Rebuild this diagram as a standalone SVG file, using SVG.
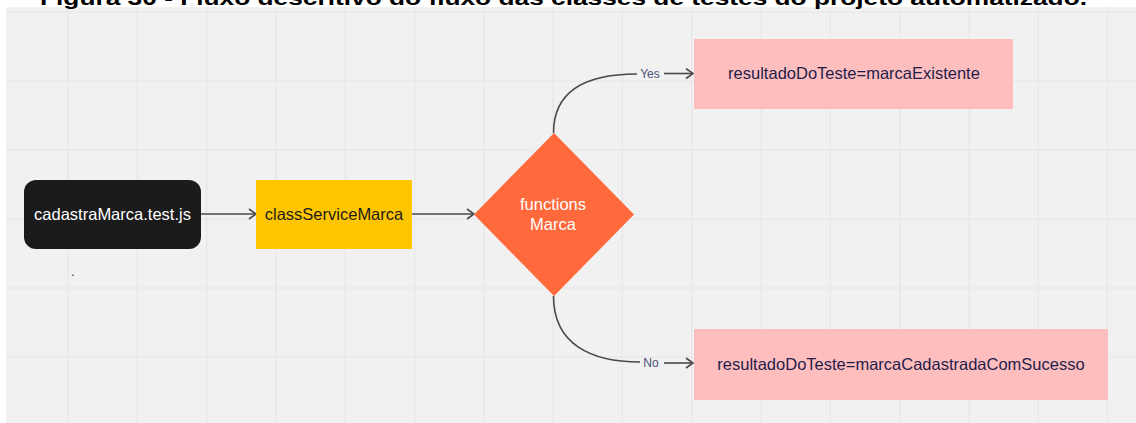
<svg xmlns="http://www.w3.org/2000/svg" width="1136" height="423" viewBox="0 0 1136 423">
  <style>
    .title { font-family: "Liberation Sans", Arial, sans-serif; font-weight: bold; font-size: 21px; fill: #000; }
    .lbl { font-family: "Liberation Sans", Arial, sans-serif; font-size: 16.5px; text-anchor: middle; }
    .edge-lbl { font-family: "Liberation Sans", Arial, sans-serif; font-size: 12px; fill: #50507a; text-anchor: middle; }
    .grid { stroke: #e6e6e6; stroke-width: 1.2; fill: none; }
    .conn { stroke: #4a4a4a; stroke-width: 1.6; fill: none; }
    .arrow { stroke: #4a4a4a; stroke-width: 1.6; fill: none; marker-end: url(#chev); }
  </style>
  <defs>
    <marker id="chev" viewBox="0 0 10 12" refX="9" refY="6" markerWidth="10" markerHeight="12" markerUnits="userSpaceOnUse" orient="auto">
      <path d="M2,1 L9,6 L2,11" fill="none" stroke="#4a4a4a" stroke-width="1.6" stroke-linejoin="miter"/>
    </marker>
  </defs>

  <!-- page and canvas -->
  <rect x="0" y="0" width="1136" height="423" fill="#ffffff"/>
  <rect x="6" y="7" width="1130" height="416" fill="#f1f1f1"/>
  <path class="grid" d="M68,7V423 M137.3,7V423 M206.6,7V423 M275.9,7V423 M345.2,7V423 M414.5,7V423 M483.8,7V423 M553.1,7V423 M622.4,7V423 M691.7,7V423 M761,7V423 M830.3,7V423 M899.6,7V423 M968.9,7V423 M1038.2,7V423 M1107.5,7V423 M6,12H1136 M6,81H1136 M6,150H1136 M6,219H1136 M6,288H1136 M6,357H1136"/>

  <!-- caption, clipped at the top edge -->
  <text class="title" x="40" y="5" textLength="1047" lengthAdjust="spacingAndGlyphs">Figura 30 - Fluxo descritivo do fluxo das classes de testes do projeto automatizado.</text>

  <!-- connectors -->
  <g id="connectors">
    <line class="arrow" x1="201" y1="214" x2="256" y2="214"/>
    <line class="arrow" x1="412" y1="214" x2="474" y2="214"/>
    <path class="conn" d="M553.5,133 C553.5,88 590,74 637,74"/>
    <text class="edge-lbl" x="650" y="78">Yes</text>
    <line class="arrow" x1="664" y1="73.5" x2="693" y2="73.5"/>
    <path class="conn" d="M553.5,296 C553.5,345 592,362 640,362"/>
    <text class="edge-lbl" x="651" y="367">No</text>
    <line class="arrow" x1="664" y1="363" x2="693" y2="363"/>
  </g>

  <!-- nodes -->
  <g id="node-test">
    <rect x="24" y="180" width="177" height="69" rx="12" ry="12" fill="#1b1b1b"/>
    <text class="lbl" x="112.5" y="220" fill="#ffffff">cadastraMarca.test.js</text>
  </g>
  <text x="73" y="276" font-family="Liberation Sans, Arial, sans-serif" font-size="12" fill="#222" text-anchor="middle">.</text>

  <g id="node-service">
    <rect x="256" y="180" width="156" height="69" fill="#ffc600"/>
    <text class="lbl" x="334" y="220" fill="#1c1c1c">classServiceMarca</text>
  </g>

  <g id="node-decision">
    <polygon points="554,133 634,214.5 554,296 474,214.5" fill="#ff693c"/>
    <text class="lbl" x="553" y="210" fill="#ffffff">functions</text>
    <text class="lbl" x="553" y="229.5" fill="#ffffff">Marca</text>
  </g>

  <g id="node-existente">
    <rect x="694" y="39" width="319" height="70" fill="#ffbebe"/>
    <text class="lbl" x="854" y="79" fill="#1f1d4a">resultadoDoTeste=marcaExistente</text>
  </g>

  <g id="node-sucesso">
    <rect x="694" y="329" width="414" height="71" fill="#ffbebe"/>
    <text class="lbl" x="901" y="370" fill="#1f1d4a">resultadoDoTeste=marcaCadastradaComSucesso</text>
  </g>
</svg>
